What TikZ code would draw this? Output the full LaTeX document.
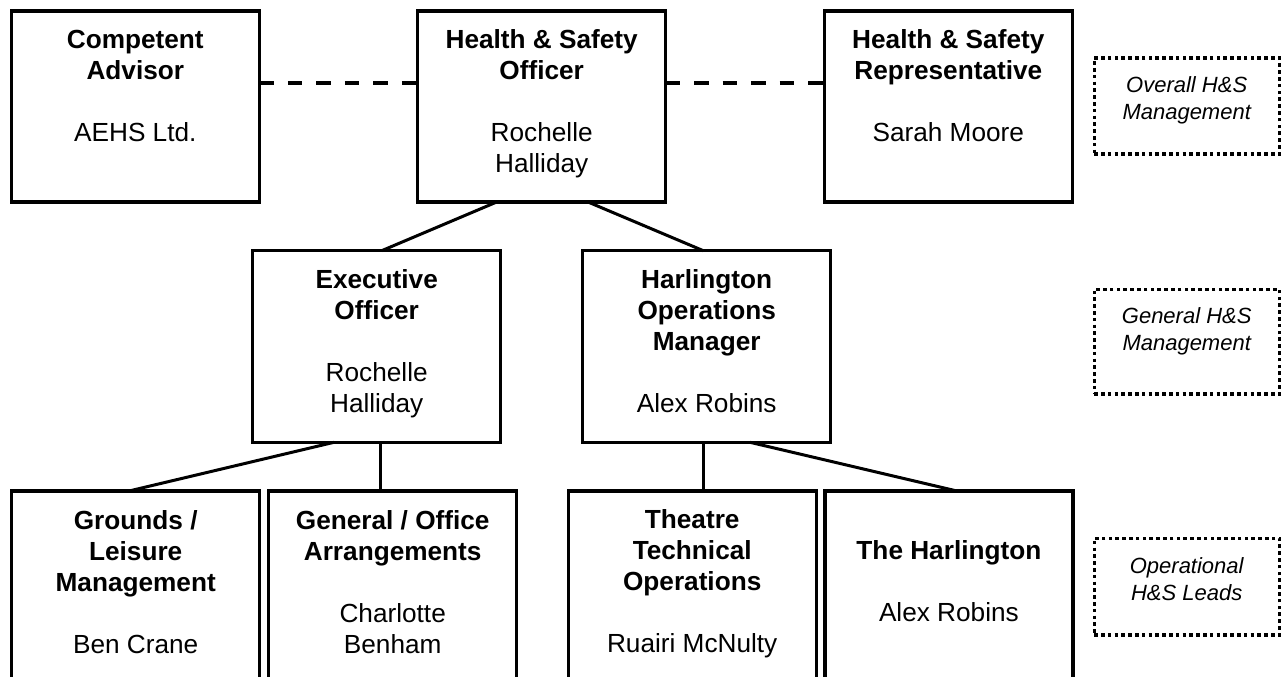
\documentclass[tikz,border=0pt]{standalone}
\usepackage{fontspec}
\setmainfont{Liberation Sans}
\begin{document}
\begin{tikzpicture}[x=1pt,y=-1pt,
  box/.style={draw, line width=3.2pt, inner sep=0pt, outer sep=0pt, minimum width=248pt},
  topbox/.style={box, minimum height=191pt},
  lowbox/.style={box, minimum height=199pt},
  lvlbox/.style={draw, line width=3.4pt, dash pattern=on 3.6pt off 3.2pt, inner sep=0pt, outer sep=0pt, minimum width=185pt},
  txt/.style={anchor=north, inner sep=0pt, align=center, font=\fontsize{26.2}{31}\selectfont},
  lvltxt/.style={anchor=north, inner sep=0pt, align=center, font=\fontsize{22}{27}\selectfont\itshape},
  conn/.style={line width=3pt},
  rel/.style={line width=3.4pt, dash pattern=on 14.5pt off 14pt}
]
\useasboundingbox (0,0) rectangle (1282,677);
\clip (0,0) rectangle (1282,677);
\fill[white] (0,0) rectangle (1282,677);

% top row
\node[topbox] (ca)  at (135.3,106.5) {};
\node[topbox] (hso) at (541.7,106.5) {};
\node[topbox] (hsr) at (948.3,106.5) {};
% middle row
\node[box, minimum height=191.6pt] (eo)  at (376.7,346.5) {};
\node[box, minimum height=191.6pt] (hom) at (706.7,346.5) {};
% bottom row
\node[lowbox] (gr)  at (135.7,590.5) {};
\node[lowbox] (gen) at (392.7,590.5) {};
\node[lowbox] (tto) at (692.2,590.5) {};
\node[lowbox] (har) at (948.9,590.5) {};

% texts
\newcommand{\sr}{\rule{0pt}{22pt}}
\node[txt] (tca)  at ([yshift=-15.7pt]ca.north)  {\sr\textbf{Competent}\\\textbf{Advisor}\\~\\AEHS Ltd.};
\node[txt] (thso) at ([yshift=-15.7pt]hso.north) {\sr\textbf{Health \& Safety}\\\textbf{Officer}\\~\\Rochelle\\Halliday};
\node[txt] (thsr) at ([yshift=-15.7pt]hsr.north) {\sr\textbf{Health \& Safety}\\\textbf{Representative}\\~\\Sarah Moore};
\node[txt] (teo)  at ([yshift=-15.7pt]eo.north)  {\sr\textbf{Executive}\\\textbf{Officer}\\~\\Rochelle\\Halliday};
\node[txt] (thom) at ([yshift=-15.7pt]hom.north) {\sr\textbf{Harlington}\\\textbf{Operations}\\\textbf{Manager}\\~\\Alex Robins};
\node[txt] (tgr)  at ([yshift=-16.2pt]gr.north)  {\sr\textbf{Grounds /}\\\textbf{Leisure}\\\textbf{Management}\\~\\Ben Crane};
\node[txt] (tgen) at ([yshift=-16.2pt]gen.north) {\sr\textbf{General / Office}\\\textbf{Arrangements}\\~\\Charlotte\\Benham};
\node[txt] (ttto) at ([yshift=-15.7pt]tto.north) {\sr\textbf{Theatre}\\\textbf{Technical}\\\textbf{Operations}\\~\\Ruairi McNulty};
\node[txt] (thar) at ([yshift=-46.7pt]har.north) {\sr\textbf{The Harlington}\\~\\Alex Robins};

% level boxes
\node[lvlbox, minimum height=96pt]    (l1) at (1186.7,106) {};
\node[lvlbox, minimum height=104.7pt] (l2) at (1186.7,341.7) {};
\node[lvlbox, minimum height=96.7pt]  (l3) at (1186.7,586.7) {};
\newcommand{\sri}{\rule{0pt}{18pt}}
\node[lvltxt] (tl1) at ([yshift=-16.3pt]l1.north) {\sri Overall H\&S\\Management};
\node[lvltxt] (tl2) at ([yshift=-16pt]l2.north)   {\sri General H\&S\\Management};
\node[lvltxt] (tl3) at ([yshift=-17pt]l3.north)   {\sri Operational\\H\&S Leads};

% connectors
\draw[rel] ([yshift=23.5pt]ca.east) -- ([yshift=23.5pt]hso.west);
\draw[rel] ([yshift=23.5pt]hso.east) -- ([yshift=23.5pt]hsr.west);
\draw[conn] ([xshift=-45pt]hso.south) -- ([xshift=5pt]eo.north);
\draw[conn] ([xshift=46.3pt]hso.south) -- ([xshift=-3.4pt]hom.north);
\draw[conn] ([xshift=-42.7pt]eo.south) -- ([xshift=-6.7pt]gr.north);
\draw[conn] ([xshift=4pt]eo.south) -- ([xshift=4pt]eo.south |- gen.north);
\draw[conn] ([xshift=-3.4pt]hom.south) -- ([xshift=-3.4pt]hom.south |- tto.north);
\draw[conn] ([xshift=43.3pt]hom.south) -- ([xshift=8pt]har.north);
\end{tikzpicture}
\end{document}
